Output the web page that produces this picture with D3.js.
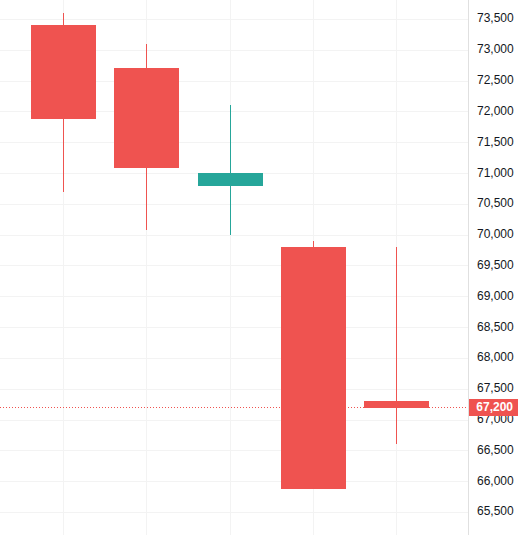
<!DOCTYPE html>
<html lang="en">
<head>
	<meta charset="UTF-8">
	<title>Candles</title>
	<style>
		html, body { margin: 0; padding: 0; background: #fff; }
		svg { display: block; }
		text { font-family: "Liberation Sans", sans-serif; }
	</style>
</head>
<body>
	<script src="https://cdn.jsdelivr.net/npm/d3@7"></script>
	<script>
		// values
		var bars = ["1", "2", "3", "4", "5"];
		var open = [73400, 72700, 70790, 69800, 67300];
		var close = [71880, 71080, 71000, 65880, 67190];
		var high = [73600, 73100, 72100, 69900, 69800];
		var low = [70700, 70080, 70000, 65880, 66600];
		var priceTicks = [65500, 66000, 66500, 67000, 67500, 68000, 68500, 69000, 69500, 70000, 70500, 71000, 71500, 72000, 72500, 73000, 73500];
		var lastPrice = 67200;

		var width = 523;
		var height = 535;
		var axisX = 468.5;
		var bodyWidth = 65;
		var upColor = "#26a69a";
		var downColor = "#ef5350";

		var svg = d3.select("body")
			.append("svg")
			.attr("width", width)
			.attr("height", height);

		var x = d3.scalePoint()
			.domain(bars)
			.range([63.5, 396.5]);

		var y = d3.scaleLinear()
			.domain([65131, 73813])
			.range([534.7, -0.3]);

		// snap to whole pixels so 1px lines stay crisp
		function xPx(d) { return Math.floor(x(d)); }
		function yPx(v) { return Math.round(y(v)); }

		// grid
		svg.selectAll(".hgrid")
			.data(priceTicks)
			.enter()
			.append("line")
			.attr("class", "hgrid")
			.attr("x1", 0)
			.attr("x2", axisX)
			.attr("y1", function(d) { return yPx(d) + 0.5; })
			.attr("y2", function(d) { return yPx(d) + 0.5; })
			.attr("stroke", "#f3f3f3");

		svg.selectAll(".vgrid")
			.data(bars)
			.enter()
			.append("line")
			.attr("class", "vgrid")
			.attr("x1", function(d) { return xPx(d) + 0.5; })
			.attr("x2", function(d) { return xPx(d) + 0.5; })
			.attr("y1", 0)
			.attr("y2", height)
			.attr("stroke", "#f3f3f3");

		// last price line sits under the candles
		svg.append("line")
			.attr("x1", 0)
			.attr("x2", axisX)
			.attr("y1", yPx(lastPrice) + 0.5)
			.attr("y2", yPx(lastPrice) + 0.5)
			.attr("stroke", downColor)
			.attr("stroke-dasharray", "1 2");

		function candleColor(i) {
			return close[i] > open[i] ? upColor : downColor;
		}

		// wicks
		svg.selectAll(".wick")
			.data(bars)
			.enter()
			.append("line")
			.attr("class", "wick")
			.attr("x1", function(d) { return xPx(d) + 0.5; })
			.attr("x2", function(d) { return xPx(d) + 0.5; })
			.attr("y1", function(d, i) { return yPx(high[i]); })
			.attr("y2", function(d, i) { return yPx(low[i]); })
			.attr("stroke", function(d, i) { return candleColor(i); });

		// bodies
		svg.selectAll(".body")
			.data(bars)
			.enter()
			.append("rect")
			.attr("class", "body")
			.attr("x", function(d) { return xPx(d) - 32; })
			.attr("width", bodyWidth)
			.attr("y", function(d, i) { return yPx(Math.max(open[i], close[i])); })
			.attr("height", function(d, i) {
				return yPx(Math.min(open[i], close[i])) - yPx(Math.max(open[i], close[i]));
			})
			.attr("fill", function(d, i) { return candleColor(i); });

		// price axis
		var axis = d3.axisRight(y)
			.tickValues(priceTicks)
			.tickSize(0)
			.tickPadding(8.5)
			.tickFormat(d3.format(","));

		var axisG = svg.append("g")
			.attr("transform", "translate(" + axisX + ",0)")
			.call(axis);

		axisG.select(".domain").remove();
		axisG.selectAll("text")
			.attr("dy", "0.25em")
			.attr("font-size", 12)
			.attr("font-family", "'Liberation Sans', sans-serif")
			.attr("fill", "#131722");

		svg.append("line")
			.attr("x1", axisX)
			.attr("x2", axisX)
			.attr("y1", 0)
			.attr("y2", height)
			.attr("stroke", "#e0e0e0");

		// last price tag, covers part of the 67,000 label like the original
		svg.append("rect")
			.attr("x", 469)
			.attr("y", yPx(lastPrice) - 8)
			.attr("width", 49)
			.attr("height", 17)
			.attr("fill", downColor);

		svg.append("text")
			.attr("x", 513)
			.attr("y", yPx(lastPrice))
			.attr("dy", "0.35em")
			.attr("text-anchor", "end")
			.attr("font-size", 12)
			.attr("font-weight", "bold")
			.attr("fill", "#fff")
			.text(d3.format(",")(lastPrice));
	</script>
</body>
</html>
